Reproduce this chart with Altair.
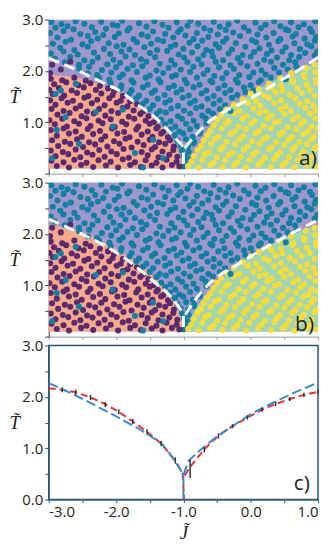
import altair as alt
import pandas as pd

# ---------------- values ----------------
J_DOMAIN = [-3.0, 1.0]
T_DOMAIN = [0.0, 3.0]
T_FLOOR = 0.1
J_TICKS = [-3.0, -2.5, -2.0, -1.5, -1.0, -0.5, 0.0, 0.5, 1.0]
T_TICKS = [0.0, 0.5, 1.0, 1.5, 2.0, 2.5, 3.0]

# phase-region boundaries (panel a)
orange_a_j = [-3.0, -2.75, -2.43, -2.09, -1.75, -1.46, -1.21, -1.07, -1.0]
orange_a_t = [1.92, 1.9, 1.82, 1.65, 1.40, 1.09, 0.72, 0.41, 0.1]
green_a_j = [-1.0, -0.82, -0.67, -0.48, -0.19, 0.2, 0.55, 0.89, 1.0]
green_a_t = [0.1, 0.41, 0.78, 1.15, 1.40, 1.71, 1.93, 2.11, 2.17]
# phase-region boundaries (panel b)
orange_b_j = [-3.0, -2.73, -2.24, -1.75, -1.41, -1.16, -1.04, -1.0]
orange_b_t = [2.17, 2.12, 1.88, 1.5, 1.13, 0.75, 0.43, 0.1]
green_b_j = [-1.0, -0.87, -0.67, -0.38, 0.0, 0.45, 0.89, 1.0]
green_b_t = [0.1, 0.43, 0.81, 1.19, 1.57, 1.88, 2.13, 2.17]

# white dashed transition lines
dash_a_left_j = [-3.0, -2.52, -2.21, -1.92, -1.68, -1.46, -1.26, -1.10, -1.0, -1.0]
dash_a_left_t = [2.25, 1.98, 1.78, 1.59, 1.34, 1.14, 0.89, 0.66, 0.5, 0.1]
dash_a_right_j = [-0.98, -0.82, -0.63, -0.38, -0.09, 0.2, 0.5, 0.79, 1.0]
dash_a_right_t = [0.5, 0.75, 1.0, 1.22, 1.40, 1.62, 1.86, 2.08, 2.27]
dash_b_left_j = [-3.0, -2.58, -2.14, -1.75, -1.46, -1.21, -1.06, -1.0, -1.0]
dash_b_left_t = [2.29, 2.04, 1.75, 1.41, 1.09, 0.81, 0.56, 0.43, 0.1]
dash_b_right_j = [-0.97, -0.77, -0.53, -0.19, 0.2, 0.59, 1.0]
dash_b_right_t = [0.43, 0.81, 1.13, 1.41, 1.72, 2.0, 2.27]

# sampled states (J, T)
teal_pts = [
    (-2.96, 2.95), (-2.81, 2.91), (-2.6, 2.97), (-2.47, 2.92), (-2.22, 2.96), (-2.05, 2.9), (-1.91, 2.98),
    (-1.66, 2.93), (-1.43, 2.97), (-1.31, 2.9), (-1.1, 2.95), (-0.9, 2.98), (-0.78, 2.92), (-0.55, 2.96),
    (-0.33, 2.91), (-0.2, 2.98), (0.07, 2.94), (0.22, 2.9), (0.35, 2.97), (0.6, 2.95), (0.79, 2.91), (0.96, 2.97),
    (-2.9, 2.84), (-2.72, 2.87), (-2.63, 2.81), (-2.36, 2.85), (-2.15, 2.82), (-1.98, 2.88), (-1.8, 2.83),
    (-1.55, 2.86), (-1.22, 2.84), (-1.04, 2.81), (-0.94, 2.88), (-0.69, 2.83), (-0.46, 2.86), (-0.37, 2.8),
    (-0.1, 2.85), (0.15, 2.83), (0.44, 2.87), (0.52, 2.81), (0.71, 2.85), (0.88, 2.82),
    (-2.98, 2.74), (-2.78, 2.78), (-2.53, 2.72), (-2.31, 2.76), (-2.19, 2.7), (-1.96, 2.73), (-1.83, 2.79),
    (-1.62, 2.71), (-1.45, 2.77), (-1.27, 2.72), (-1.08, 2.76), (-0.8, 2.74), (-0.6, 2.79), (-0.49, 2.71),
    (-0.26, 2.75), (-0.03, 2.78), (0.1, 2.71), (0.34, 2.74), (0.56, 2.79), (0.67, 2.72), (0.91, 2.76),
    (-2.87, 2.65), (-2.67, 2.61), (-2.42, 2.68), (-2.27, 2.63), (-2.02, 2.66), (-1.74, 2.62), (-1.53, 2.67),
    (-1.38, 2.61), (-1.15, 2.65), (-0.97, 2.69), (-0.85, 2.62), (-0.63, 2.66), (-0.36, 2.63), (-0.16, 2.68),
    (0.02, 2.6), (0.23, 2.65), (0.44, 2.62), (0.62, 2.67), (0.8, 2.63), (0.97, 2.66),
    (-2.94, 2.53), (-2.75, 2.57), (-2.5, 2.52), (-2.37, 2.58), (-2.11, 2.54), (-1.89, 2.51), (-1.69, 2.56),
    (-1.48, 2.53), (-1.3, 2.58), (-1.12, 2.51), (-0.91, 2.55), (-0.72, 2.59), (-0.52, 2.52), (-0.41, 2.57),
    (-0.22, 2.54), (0.08, 2.56), (0.27, 2.51), (0.41, 2.58), (0.65, 2.54), (0.84, 2.52), (0.95, 2.59),
    (-2.83, 2.45), (-2.62, 2.41), (-2.42, 2.47), (-2.18, 2.43), (-1.99, 2.48), (-1.8, 2.42), (-1.58, 2.46),
    (-1.39, 2.41), (-1.19, 2.47), (-1.0, 2.43), (-0.79, 2.48), (-0.66, 2.41), (-0.47, 2.45), (-0.28, 2.42),
    (-0.08, 2.47), (0.13, 2.44), (0.31, 2.4), (0.52, 2.46), (0.73, 2.43), (0.9, 2.48),
    (-2.97, 2.34), (-2.78, 2.38), (-2.57, 2.32), (-2.33, 2.36), (-2.09, 2.33), (-1.92, 2.38), (-1.72, 2.31),
    (-1.5, 2.35), (-1.24, 2.39), (-1.07, 2.32), (-0.87, 2.36), (-0.7, 2.31), (-0.58, 2.38), (-0.33, 2.34),
    (-0.12, 2.31), (0.05, 2.37), (0.24, 2.33), (0.47, 2.38), (0.6, 2.31), (0.81, 2.35), (0.99, 2.38),
    (-2.91, 2.24), (-2.68, 2.27), (-2.47, 2.21), (-2.27, 2.26), (-2.04, 2.22), (-1.86, 2.28), (-1.63, 2.23),
    (-1.42, 2.27), (-1.18, 2.21), (-0.99, 2.26), (-0.78, 2.23), (-0.56, 2.28), (-0.41, 2.21), (-0.19, 2.25),
    (0.0, 2.28), (0.2, 2.22), (0.39, 2.26), (0.57, 2.21), (0.72, 2.27), (0.95, 2.3),
    (-2.76, 2.17), (-2.55, 2.12), (-2.35, 2.18), (-2.13, 2.13), (-1.94, 2.16), (-1.75, 2.11), (-1.55, 2.18),
    (-1.35, 2.14), (-1.13, 2.12), (-0.94, 2.17), (-0.73, 2.13), (-0.52, 2.18), (-0.3, 2.11), (-0.15, 2.16),
    (0.1, 2.14), (0.3, 2.18), (0.48, 2.12), (0.66, 2.17),
    (-2.55, 2.05), (-2.4, 2.08), (-2.21, 2.02), (-2.0, 2.07), (-1.83, 2.04), (-1.61, 2.09), (-1.4, 2.01),
    (-1.22, 2.06), (-1.04, 2.03), (-0.85, 2.08), (-0.64, 2.02), (-0.47, 2.07), (-0.25, 2.04), (-0.05, 2.09),
    (0.16, 2.01), (0.35, 2.06), (0.55, 2.03), (0.68, 2.08),
    (-2.42, 1.95), (-2.28, 1.92), (-2.07, 1.97), (-1.9, 1.93), (-1.69, 1.98), (-1.5, 1.91), (-1.3, 1.96),
    (-1.11, 1.92), (-0.9, 1.98), (-0.7, 1.94), (-0.54, 1.9), (-0.36, 1.96), (-0.17, 1.92), (0.04, 1.97),
    (0.22, 1.93), (0.42, 1.97),
    (-2.25, 1.86), (-2.1, 1.83), (-1.95, 1.88), (-1.77, 1.82), (-1.56, 1.87), (-1.37, 1.84), (-1.17, 1.89),
    (-0.98, 1.83), (-0.8, 1.87), (-0.6, 1.81), (-0.42, 1.86), (-0.22, 1.83), (-0.02, 1.88), (0.15, 1.82),
    (0.3, 1.87),
    (-2.08, 1.76), (-1.92, 1.72), (-1.74, 1.77), (-1.53, 1.73), (-1.34, 1.78), (-1.14, 1.71), (-0.95, 1.76),
    (-0.76, 1.73), (-0.57, 1.78), (-0.39, 1.72), (-0.19, 1.77), (0.0, 1.72), (0.12, 1.78),
    (-1.93, 1.66), (-1.77, 1.63), (-1.6, 1.68), (-1.42, 1.62), (-1.22, 1.67), (-1.03, 1.64), (-0.85, 1.68),
    (-0.66, 1.62), (-0.48, 1.66), (-0.3, 1.63), (-0.1, 1.68), (0.04, 1.62),
    (-1.8, 1.56), (-1.66, 1.52), (-1.47, 1.57), (-1.28, 1.53), (-1.1, 1.58), (-0.92, 1.52), (-0.73, 1.56),
    (-0.55, 1.51), (-0.38, 1.57), (-0.2, 1.53), (-0.08, 1.59),
    (-1.7, 1.47), (-1.55, 1.42), (-1.38, 1.46), (-1.2, 1.43), (-1.01, 1.48), (-0.83, 1.42), (-0.64, 1.46),
    (-0.46, 1.43), (-0.28, 1.48),
    (-1.6, 1.36), (-1.45, 1.33), (-1.27, 1.38), (-1.08, 1.32), (-0.9, 1.37), (-0.73, 1.31), (-0.55, 1.36),
    (-0.38, 1.33),
    (-1.5, 1.26), (-1.35, 1.22), (-1.18, 1.27), (-0.99, 1.23), (-0.81, 1.28), (-0.63, 1.22), (-0.46, 1.26),
    (-1.4, 1.16), (-1.26, 1.19), (-1.08, 1.12), (-0.9, 1.17), (-0.72, 1.13), (-0.56, 1.17),
    (-1.33, 1.05), (-1.19, 1.02), (-1.02, 1.07), (-0.85, 1.03), (-0.67, 1.08),
    (-1.27, 0.96), (-1.12, 0.92), (-0.96, 0.97), (-0.8, 0.93), (-0.66, 0.98),
    (-1.2, 0.86), (-1.06, 0.82), (-0.9, 0.87), (-0.75, 0.83),
    (-1.13, 0.75), (-1.0, 0.78), (-0.86, 0.72), (-0.76, 0.78),
    (-1.09, 0.64), (-0.96, 0.67), (-0.84, 0.62),
    (-1.04, 0.55), (-0.93, 0.53), (-0.85, 0.59),
    (-1.02, 0.45), (-0.92, 0.42), (-0.99, 0.35), (-0.94, 0.3), (-0.98, 0.23), (-1.0, 0.14),
]
teal_stray_pts = [
    (-2.9, 1.55), (-2.82, 1.62), (-2.75, 1.1), (-2.55, 0.58), (-2.88, 0.85), (-2.3, 1.2), (-2.05, 0.92),
    (-1.72, 0.4), (-1.6, 0.12), (-1.45, 0.66), (-2.6, 1.75), (-1.3, 0.3), (-2.95, 0.3), (-1.9, 1.25),
    (0.52, 1.84), (-0.3, 1.22),
]
purple_pts = [
    (-2.95, 2.12), (-2.82, 2.03), (-2.68, 2.18), (-2.98, 1.96),
    (-2.97, 1.85), (-2.8, 1.82), (-2.62, 1.87), (-2.45, 1.81),
    (-2.92, 1.74), (-2.74, 1.78), (-2.56, 1.72), (-2.38, 1.76), (-2.24, 1.71),
    (-2.99, 1.63), (-2.85, 1.67), (-2.66, 1.62), (-2.48, 1.68), (-2.3, 1.63), (-2.12, 1.66), (-2.03, 1.61),
    (-2.94, 1.55), (-2.77, 1.52), (-2.58, 1.57), (-2.41, 1.51), (-2.22, 1.56), (-2.05, 1.53), (-1.9, 1.51),
    (-2.98, 1.43), (-2.81, 1.47), (-2.64, 1.42), (-2.47, 1.48), (-2.28, 1.44), (-2.1, 1.47), (-1.93, 1.42),
    (-1.79, 1.41),
    (-2.9, 1.34), (-2.72, 1.38), (-2.53, 1.32), (-2.36, 1.37), (-2.17, 1.33), (-1.99, 1.38), (-1.83, 1.31),
    (-1.69, 1.35),
    (-2.96, 1.26), (-2.78, 1.22), (-2.6, 1.27), (-2.43, 1.21), (-2.25, 1.26), (-2.07, 1.22), (-1.9, 1.28),
    (-1.74, 1.23), (-1.6, 1.21),
    (-2.87, 1.15), (-2.69, 1.18), (-2.51, 1.12), (-2.33, 1.17), (-2.16, 1.13), (-1.97, 1.18), (-1.81, 1.11),
    (-1.64, 1.16), (-1.52, 1.12),
    (-2.99, 1.04), (-2.8, 1.07), (-2.62, 1.02), (-2.44, 1.08), (-2.26, 1.03), (-2.08, 1.06), (-1.91, 1.01),
    (-1.73, 1.07), (-1.56, 1.03), (-1.44, 1.0),
    (-2.91, 0.96), (-2.73, 0.92), (-2.55, 0.97), (-2.38, 0.93), (-2.2, 0.98), (-2.02, 0.91), (-1.85, 0.96),
    (-1.67, 0.92), (-1.5, 0.97), (-1.38, 0.91),
    (-2.97, 0.85), (-2.78, 0.88), (-2.6, 0.82), (-2.42, 0.87), (-2.24, 0.83), (-2.06, 0.88), (-1.88, 0.81),
    (-1.7, 0.86), (-1.53, 0.82), (-1.4, 0.88), (-1.3, 0.81),
    (-2.88, 0.74), (-2.7, 0.78), (-2.51, 0.72), (-2.34, 0.77), (-2.16, 0.73), (-1.98, 0.78), (-1.8, 0.71),
    (-1.62, 0.76), (-1.46, 0.72), (-1.33, 0.78), (-1.23, 0.71),
    (-2.95, 0.65), (-2.76, 0.62), (-2.58, 0.67), (-2.4, 0.61), (-2.22, 0.66), (-2.03, 0.63), (-1.86, 0.68),
    (-1.68, 0.62), (-1.5, 0.66), (-1.36, 0.61), (-1.2, 0.65),
    (-2.86, 0.54), (-2.68, 0.58), (-2.49, 0.52), (-2.31, 0.57), (-2.13, 0.53), (-1.95, 0.58), (-1.77, 0.51),
    (-1.59, 0.56), (-1.42, 0.52), (-1.27, 0.58), (-1.14, 0.53),
    (-2.97, 0.45), (-2.79, 0.42), (-2.6, 0.47), (-2.43, 0.41), (-2.25, 0.46), (-2.07, 0.43), (-1.89, 0.48),
    (-1.62, 0.42), (-1.47, 0.47), (-1.31, 0.43), (-1.15, 0.46),
    (-2.9, 0.34), (-2.71, 0.38), (-2.53, 0.32), (-2.35, 0.37), (-2.17, 0.33), (-1.99, 0.38), (-1.81, 0.31),
    (-1.53, 0.36), (-1.37, 0.32), (-1.21, 0.37), (-1.09, 0.33),
    (-2.96, 0.25), (-2.78, 0.22), (-2.62, 0.27), (-2.44, 0.21), (-2.26, 0.26), (-2.08, 0.23), (-1.9, 0.28),
    (-1.72, 0.22), (-1.56, 0.26), (-1.4, 0.21), (-1.25, 0.27), (-1.1, 0.23),
    (-2.88, 0.15), (-2.7, 0.12), (-2.52, 0.17), (-2.34, 0.13), (-2.15, 0.16), (-1.97, 0.12), (-1.79, 0.17),
    (-1.63, 0.13), (-1.47, 0.16), (-1.31, 0.12), (-1.17, 0.17), (-1.06, 0.14),
]
yellow_pts = [
    (0.82, 2.06), (0.95, 2.12),
    (0.6, 1.96), (0.79, 1.92), (0.96, 1.98),
    (0.44, 1.86), (0.63, 1.82), (0.8, 1.88), (0.97, 1.84),
    (0.27, 1.75), (0.45, 1.71), (0.62, 1.78), (0.83, 1.73), (0.98, 1.77),
    (0.12, 1.65), (0.31, 1.68), (0.47, 1.62), (0.69, 1.67), (0.88, 1.63),
    (0.0, 1.56), (0.2, 1.52), (0.37, 1.58), (0.58, 1.53), (0.76, 1.57), (0.95, 1.51),
    (-0.12, 1.45), (0.08, 1.42), (0.27, 1.48), (0.45, 1.43), (0.66, 1.47), (0.84, 1.41),
    (-0.25, 1.34), (-0.04, 1.38), (0.14, 1.32), (0.35, 1.37), (0.52, 1.31), (0.73, 1.36), (0.93, 1.33),
    (-0.36, 1.25), (-0.17, 1.22), (0.04, 1.27), (0.22, 1.21), (0.44, 1.26), (0.6, 1.22), (0.81, 1.28),
    (0.97, 1.23),
    (-0.44, 1.14), (-0.25, 1.17), (-0.07, 1.12), (0.13, 1.18), (0.31, 1.13), (0.5, 1.16), (0.7, 1.11),
    (0.88, 1.17),
    (-0.5, 1.05), (-0.33, 1.02), (-0.12, 1.07), (0.06, 1.03), (0.25, 1.08), (0.42, 1.02), (0.63, 1.06),
    (0.79, 1.02), (0.96, 1.08),
    (-0.55, 0.95), (-0.37, 0.98), (-0.18, 0.92), (0.01, 0.97), (0.19, 0.93), (0.36, 0.99), (0.55, 0.91),
    (0.74, 0.96), (0.9, 0.92),
    (-0.6, 0.84), (-0.43, 0.88), (-0.24, 0.82), (-0.07, 0.87), (0.12, 0.83), (0.3, 0.88), (0.48, 0.81),
    (0.67, 0.86), (0.85, 0.82), (0.99, 0.88),
    (-0.65, 0.75), (-0.48, 0.72), (-0.3, 0.77), (-0.11, 0.73), (0.07, 0.78), (0.24, 0.71), (0.43, 0.76),
    (0.61, 0.72), (0.78, 0.77), (0.94, 0.73),
    (-0.7, 0.65), (-0.53, 0.68), (-0.36, 0.62), (-0.17, 0.67), (0.02, 0.63), (0.19, 0.68), (0.38, 0.61),
    (0.56, 0.66), (0.73, 0.62), (0.9, 0.67),
    (-0.74, 0.54), (-0.59, 0.58), (-0.41, 0.52), (-0.23, 0.57), (-0.05, 0.53), (0.13, 0.58), (0.31, 0.51),
    (0.5, 0.56), (0.66, 0.52), (0.84, 0.57), (0.98, 0.53),
    (-0.79, 0.46), (-0.62, 0.42), (-0.45, 0.47), (-0.27, 0.41), (-0.1, 0.46), (0.09, 0.43), (0.27, 0.48),
    (0.44, 0.42), (0.62, 0.46), (0.79, 0.43), (0.95, 0.48),
    (-0.84, 0.35), (-0.68, 0.38), (-0.5, 0.32), (-0.33, 0.37), (-0.15, 0.33), (0.04, 0.38), (0.21, 0.31),
    (0.39, 0.36), (0.57, 0.32), (0.75, 0.37), (0.91, 0.33),
    (-0.88, 0.24), (-0.72, 0.27), (-0.55, 0.21), (-0.38, 0.26), (-0.2, 0.22), (-0.02, 0.27), (0.16, 0.23),
    (0.35, 0.28), (0.52, 0.21), (0.7, 0.26), (0.87, 0.22),
    (-0.93, 0.15), (-0.77, 0.12), (-0.6, 0.17), (-0.42, 0.13), (-0.25, 0.16), (-0.07, 0.12), (0.11, 0.17),
    (0.3, 0.13), (0.47, 0.16), (0.65, 0.12), (0.83, 0.17), (0.97, 0.14),
]

# panel c curves
red_left_j = [-3.0, -2.8, -2.6, -2.38, -2.16, -1.96, -1.75, -1.54, -1.33, -1.21, -1.11, -1.04, -1.01, -0.99]
red_left_t = [2.17, 2.14, 2.09, 1.99, 1.86, 1.71, 1.52, 1.32, 1.09, 0.9, 0.73, 0.58, 0.5, 0.0]
red_right_j = [-0.98, -0.92, -0.85, -0.77, -0.69, -0.6, -0.48, -0.38, -0.27, -0.15, -0.05, 0.17, 0.37, 0.58, 0.79, 1.0]
red_right_t = [0.47, 0.6, 0.72, 0.85, 0.97, 1.1, 1.24, 1.34, 1.43, 1.52, 1.6, 1.75, 1.86, 1.96, 2.04, 2.1]
blue_left_j = [-3.0, -2.63, -2.14, -1.65, -1.33, -1.21, -1.1, -1.03, -1.0, -1.0]
blue_left_t = [2.27, 2.05, 1.72, 1.37, 1.1, 0.91, 0.7, 0.55, 0.48, 0.0]
blue_right_j = [-1.0, -0.92, -0.77, -0.58, -0.33, -0.04, 0.155, 0.40, 0.64, 1.0]
blue_right_t = [0.48, 0.76, 0.94, 1.15, 1.38, 1.63, 1.77, 1.93, 2.08, 2.28]
err_j = [-2.8, -2.6, -2.38, -2.16, -1.96, -1.75, -1.54, -1.33, -1.12, -0.9, -0.69, -0.48, -0.27, -0.05, 0.17, 0.37, 0.58, 0.79, 1.0]
err_t = [2.14, 2.09, 1.99, 1.85, 1.71, 1.52, 1.32, 1.09, 0.76, 0.6, 0.97, 1.24, 1.43, 1.6, 1.75, 1.86, 1.96, 2.04, 2.1]
err_e = [0.05, 0.05, 0.05, 0.05, 0.05, 0.05, 0.05, 0.05, 0.06, 0.18, 0.05, 0.05, 0.04, 0.04, 0.04, 0.04, 0.04, 0.04, 0.04]

panel_labels = ["a)", "b)", "c)"]
label_j = [0.85, 0.8, 0.76]
label_t = [0.28, 0.22, 0.3]

# ---------------- styling ----------------
W, H = 271, 155
C_PURPLE_BG = "#9f97cc"
C_ORANGE = "#f6a98b"
C_GREEN = "#9fd5b3"
C_TEAL = "#0f7fa3"
C_PURPLE = "#5a2a70"
C_YELLOW = "#f9dc3a"
C_FRAME = "#2a5775"
TXT = "#231f20"
TILDE_T = "T\u0303"
TILDE_J = "J\u0303"

X_LABELS = "datum.value % 1 == 0 ? (datum.value < 0 ? '-' : '') + format(abs(datum.value), '.1f') : ''"
Y_LABELS_AB = "datum.value > 0 && datum.value % 1 == 0 ? format(datum.value, '.1f') : ''"
Y_LABELS_C = "datum.value % 1 == 0 ? format(datum.value, '.1f') : ''"


def xenc(field, panel):
    if panel == "c":
        axis = alt.Axis(values=J_TICKS, labelExpr=X_LABELS, title=TILDE_J, titleFont="Liberation Serif",
                        titleFontStyle="italic", titleFontWeight="normal", titleFontSize=19, titleColor=TXT,
                        titlePadding=4, domainColor=C_FRAME, tickColor=C_FRAME, tickSize=3)
    else:
        axis = alt.Axis(values=J_TICKS, labels=False, title=None, domainColor="#9a9a9a",
                        tickColor="#9a9a9a", tickSize=3)
    return alt.X(field, type="quantitative", scale=alt.Scale(domain=J_DOMAIN, nice=False, zero=False), axis=axis)


def yenc(field, panel):
    common = dict(values=T_TICKS, title=TILDE_T, titleAngle=0, titleX=-40, titleY=H / 2,
                  titleAlign="left", titleBaseline="middle", titleFont="Liberation Serif",
                  titleFontStyle="italic", titleFontWeight="normal", titleFontSize=19, titleColor=TXT,
                  tickSize=4)
    if panel == "c":
        axis = alt.Axis(labelExpr=Y_LABELS_C, domainColor=C_FRAME, tickColor=C_FRAME, **common)
    else:
        axis = alt.Axis(labelExpr=Y_LABELS_AB, domainColor="#3a3a3a", tickColor="#3a3a3a", **common)
    return alt.Y(field, type="quantitative", scale=alt.Scale(domain=T_DOMAIN, nice=False, zero=False), axis=axis)


def line_df(parts):
    rows = []
    for seg, (js, ts) in enumerate(parts):
        for k, (j, t) in enumerate(zip(js, ts)):
            rows.append({"j": j, "t": t, "seg": seg, "k": k})
    return pd.DataFrame(rows)


pts_rows = ([{"j": j, "t": t, "cls": "teal"} for j, t in teal_pts]
            + [{"j": j, "t": t, "cls": "purple"} for j, t in purple_pts]
            + [{"j": j, "t": t, "cls": "yellow"} for j, t in yellow_pts]
            + [{"j": j, "t": t, "cls": "teal"} for j, t in teal_stray_pts])
pts_df = pd.DataFrame(pts_rows)


def phase_panel(orange_j, orange_t, green_j, green_t, dl, dr, idx):
    bg = alt.Chart(pd.DataFrame({"j0": [J_DOMAIN[0]], "j1": [J_DOMAIN[1]], "t0": [T_FLOOR], "t1": [T_DOMAIN[1]]})
                   ).mark_rect(color=C_PURPLE_BG).encode(x=xenc("j0", "ab"), x2="j1", y=yenc("t0", "ab"), y2="t1")
    orange = alt.Chart(pd.DataFrame({"j": orange_j, "t": orange_t, "b": T_FLOOR})).mark_area(
        color=C_ORANGE, interpolate="monotone", opacity=1).encode(x=xenc("j", "ab"), y=yenc("t", "ab"), y2="b")
    green = alt.Chart(pd.DataFrame({"j": green_j, "t": green_t, "b": T_FLOOR})).mark_area(
        color=C_GREEN, interpolate="monotone", opacity=1).encode(x=xenc("j", "ab"), y=yenc("t", "ab"), y2="b")
    pts = alt.Chart(pts_df).mark_circle(size=37, opacity=1, clip=True).encode(
        x=xenc("j", "ab"), y=yenc("t", "ab"),
        color=alt.Color("cls:N", scale=alt.Scale(domain=["teal", "purple", "yellow"],
                                                 range=[C_TEAL, C_PURPLE, C_YELLOW]), legend=None))
    dashed = alt.Chart(line_df([dl, dr])).mark_line(color="white", strokeWidth=3, strokeDash=[11, 6],
                                                     interpolate="monotone").encode(
        x=xenc("j", "ab"), y=yenc("t", "ab"), detail="seg:N", order="k:Q")
    lab = alt.Chart(pd.DataFrame({"j": [label_j[idx]], "t": [label_t[idx]], "s": [panel_labels[idx]]})).mark_text(
        font="Open Sans", fontSize=21, color=TXT, baseline="middle").encode(
        x=xenc("j", "ab"), y=yenc("t", "ab"), text="s:N")
    return alt.layer(bg, orange, green, pts, dashed, lab).properties(width=W, height=H)


pa = phase_panel(orange_a_j, orange_a_t, green_a_j, green_a_t,
                 (dash_a_left_j, dash_a_left_t), (dash_a_right_j, dash_a_right_t), 0)
pb = phase_panel(orange_b_j, orange_b_t, green_b_j, green_b_t,
                 (dash_b_left_j, dash_b_left_t), (dash_b_right_j, dash_b_right_t), 1)

red = alt.Chart(line_df([(red_left_j, red_left_t), (red_right_j, red_right_t)])).mark_line(
    color="#e8303a", strokeWidth=2, strokeDash=[7, 4]).encode(
    x=xenc("j", "c"), y=yenc("t", "c"), detail="seg:N", order="k:Q")
blue = alt.Chart(line_df([(blue_left_j, blue_left_t), (blue_right_j, blue_right_t)])).mark_line(
    color="#3a8bd2", strokeWidth=2, strokeDash=[10, 4]).encode(
    x=xenc("j", "c"), y=yenc("t", "c"), detail="seg:N", order="k:Q")
err_df = pd.DataFrame({"j": err_j, "t": err_t, "e": err_e})
err_df["lo"] = err_df["t"] - err_df["e"]
err_df["hi"] = err_df["t"] + err_df["e"]
errs = alt.Chart(err_df).mark_rule(color="#333333", strokeWidth=1.5).encode(
    x=xenc("j", "c"), y=yenc("lo", "c"), y2="hi")
lab_c = alt.Chart(pd.DataFrame({"j": [label_j[2]], "t": [label_t[2]], "s": [panel_labels[2]]})).mark_text(
    font="Open Sans", fontSize=21, color=TXT, baseline="middle").encode(
    x=xenc("j", "c"), y=yenc("t", "c"), text="s:N")
pc = alt.layer(red, blue, errs, lab_c).properties(
    width=W, height=H, view=alt.ViewBackground(stroke=C_FRAME, strokeWidth=1.5))

chart = alt.vconcat(pa, pb, pc, spacing=9, bounds="flush",
                    padding={"top": 3, "left": 0, "right": 0, "bottom": 0}).configure_view(
    strokeWidth=0).configure_axis(
    labelFont="Open Sans", labelFontSize=15, labelColor=TXT, labelPadding=2, grid=False,
    domainWidth=1, tickWidth=1)

chart.save("out.html", embed_options={"renderer": "svg", "actions": False})
